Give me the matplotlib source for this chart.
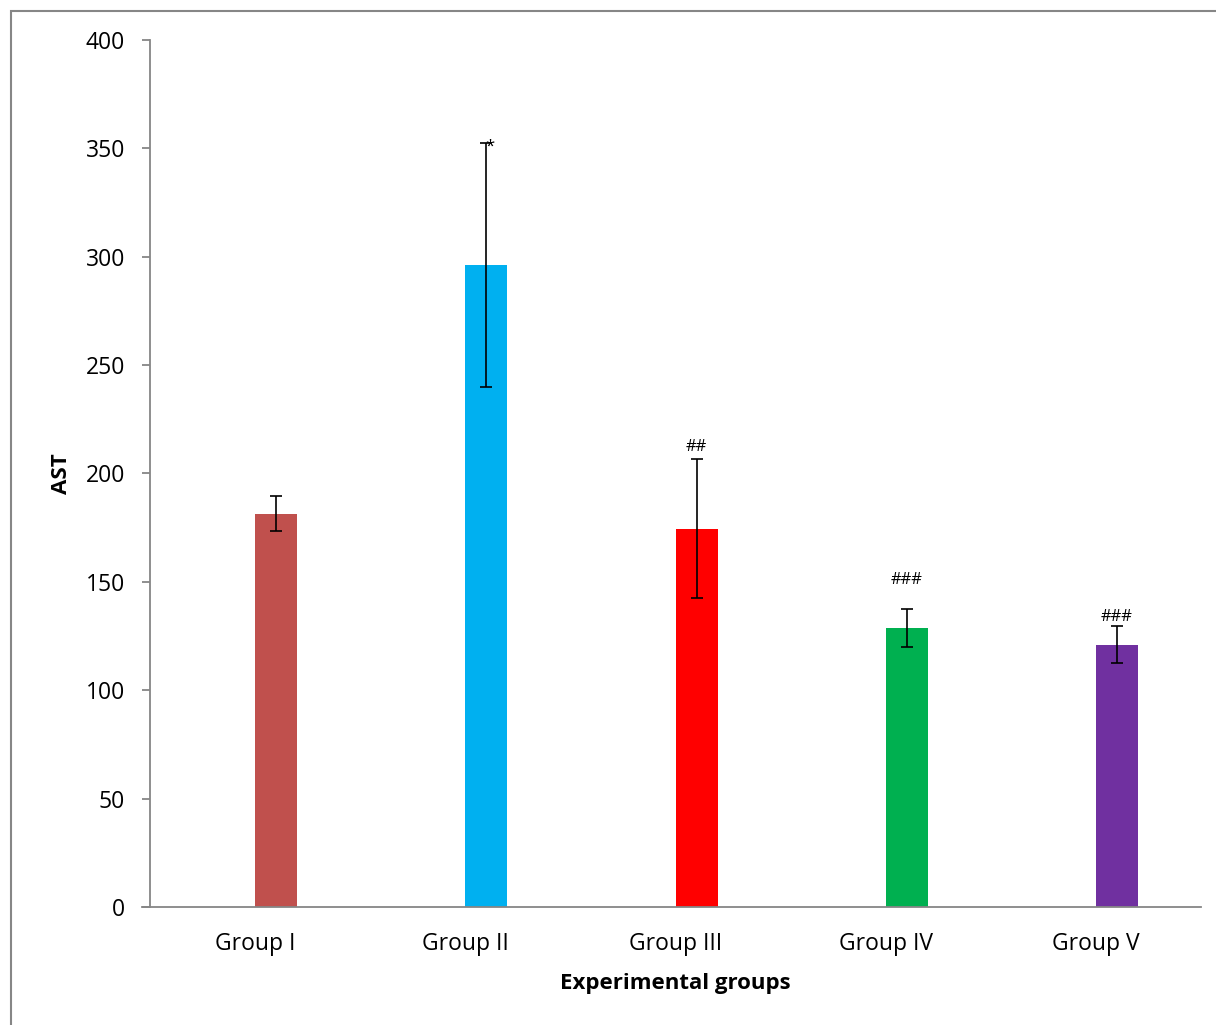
import matplotlib
matplotlib.use('Agg')
import matplotlib.pyplot as plt
from matplotlib.patches import Rectangle

plt.rcParams['font.family'] = ['Open Sans', 'DejaVu Sans']

groups = ['Group I', 'Group II', 'Group III', 'Group IV', 'Group V']
ast_mean = [181.5, 296.2, 174.5, 128.7, 121.0]
ast_err = [8.0, 56.5, 32.0, 8.7, 8.5]
colors = ['#C0504D', '#00B0F0', '#FF0000', '#00B050', '#7030A0']
sig_marks = ['', '*', '##', '###', '###']
sig_y = [0, 351, 212, 151, 134]

BAR_W = 0.2


def main():
    fig = plt.figure(figsize=(12.16, 10.25), dpi=100)
    ax = fig.add_axes([0.1234, 0.1151, 0.8643, 0.8459])

    x = list(range(len(groups)))
    # bars sit just right of each category tick, like the spreadsheet layout
    ax.bar(x, ast_mean, width=BAR_W, align='edge', color=colors, zorder=2)
    xc = [i + BAR_W / 2 for i in x]
    ax.errorbar(xc, ast_mean, yerr=ast_err, fmt='none', ecolor='black',
                elinewidth=1.2, capsize=4, capthick=1.2, zorder=3)

    for i, (m, yy) in enumerate(zip(sig_marks, sig_y)):
        if m:
            dx = 0.015 if m == '*' else 0
            ax.text(xc[i] + dx, yy, m, ha='center', va='center', fontsize=12)

    ax.set_xlim(-0.5, 4.5)
    ax.set_ylim(0, 400)
    ax.set_yticks(range(0, 401, 50))
    ax.set_xticks(x)
    ax.set_xticklabels(groups)

    for side in ['top', 'right']:
        ax.spines[side].set_visible(False)
    for side in ['left', 'bottom']:
        ax.spines[side].set_color('#868686')
        ax.spines[side].set_linewidth(1.3)
    ax.spines['bottom'].set_bounds(-0.5 - 8 / 210.4, 4.5)
    ax.tick_params(axis='y', length=6, width=1.3, color='#868686',
                   labelsize=16.5, pad=12)
    ax.tick_params(axis='x', length=0, labelsize=16.5, pad=18)

    ax.set_ylabel('AST', fontsize=16, fontweight='bold', labelpad=10)
    ax.set_xlabel('Experimental groups', fontsize=16, fontweight='bold',
                  labelpad=12)

    # outer chart frame
    fig.patches.append(Rectangle((11 / 1216, -0.1), 1.2, 1.1 - 11 / 1025,
                                 transform=fig.transFigure, fill=False,
                                 edgecolor='#868686', linewidth=1.5))

    fig.savefig('out.png', dpi=100)


if __name__ == '__main__':
    main()
